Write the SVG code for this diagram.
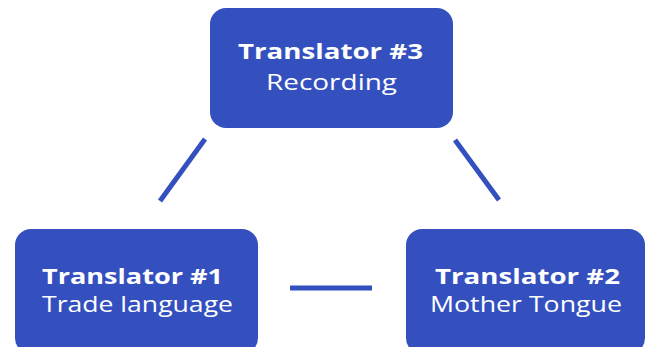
<svg xmlns="http://www.w3.org/2000/svg" width="647" height="347" viewBox="0 0 647 347">
<style>
.box{fill:#3450bf}
.t{font-family:"Open Sans","Liberation Sans",sans-serif;fill:#fff;text-anchor:middle;font-size:22px}
.b{font-weight:700}
.c{stroke:#3450bf;stroke-width:5;fill:none}
</style>
<rect width="647" height="347" fill="#fff"/>
<g id="connectors">
<line class="c" x1="205" y1="139" x2="160" y2="201"/>
<line class="c" x1="455" y1="140" x2="499" y2="200"/>
<line class="c" x1="290" y1="288" x2="372" y2="288"/>
</g>
<g id="node3">
<rect class="box" x="210" y="8" width="243" height="120" rx="16"/>
<text class="t b" x="330.5" y="58.5" textLength="185" lengthAdjust="spacingAndGlyphs">Translator #3</text>
<text class="t" x="331.5" y="89.5" textLength="131" lengthAdjust="spacingAndGlyphs">Recording</text>
</g>
<g id="node1">
<rect class="box" x="15" y="229" width="243" height="125" rx="16"/>
<text class="t b" x="132.5" y="283.5" textLength="181" lengthAdjust="spacingAndGlyphs">Translator #1</text>
<text class="t" x="137.5" y="311.5" textLength="191" lengthAdjust="spacingAndGlyphs">Trade language</text>
</g>
<g id="node2">
<rect class="box" x="406" y="229" width="239" height="125" rx="16"/>
<text class="t b" x="527.5" y="283.5" textLength="185" lengthAdjust="spacingAndGlyphs">Translator #2</text>
<text class="t" x="526" y="311.5" textLength="192" lengthAdjust="spacingAndGlyphs">Mother Tongue</text>
</g>
</svg>
